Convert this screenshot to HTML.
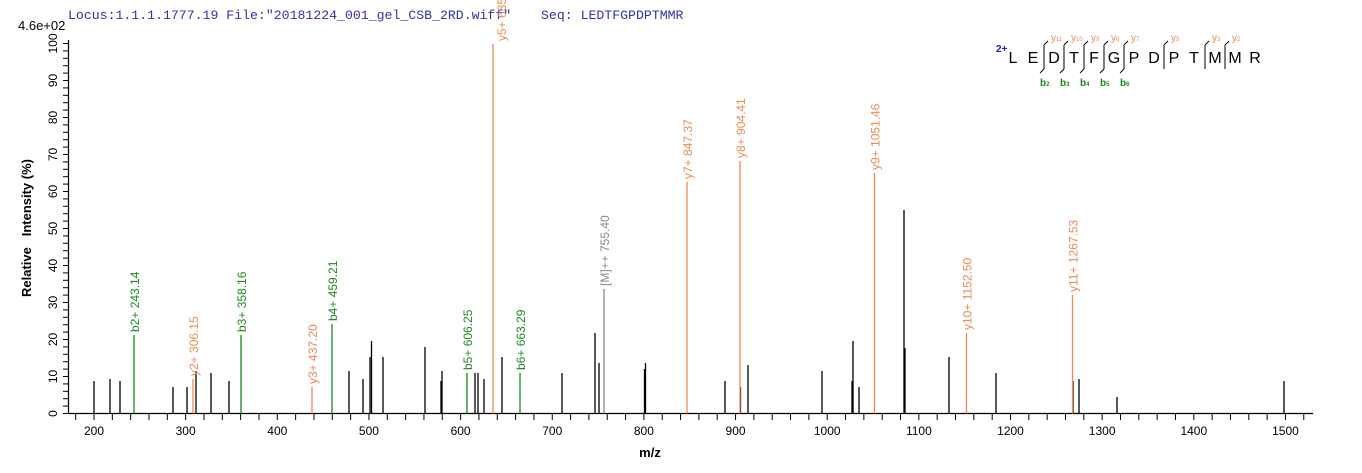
<!DOCTYPE html>
<html><head><meta charset="utf-8"><style>
html,body{margin:0;padding:0;background:#fff;}
svg{display:block;}
text{font-family:"Liberation Sans",Arial,sans-serif;}
</style></head><body>
<svg width="1362" height="473" viewBox="0 0 1362 473" xmlns="http://www.w3.org/2000/svg">
<text x="68" y="19" font-size="13.2" fill="#3333aa" style="font-family:'Liberation Mono',monospace">Locus:1.1.1.1777.19 File:"20181224_001_gel_CSB_2RD.wiff"</text>
<text x="541" y="19" font-size="13.2" fill="#3333aa" style="font-family:'Liberation Mono',monospace">Seq: LEDTFGPDPTMMR</text>
<text x="18" y="30" font-size="13" fill="#000">4.6e+02</text>
<line x1="68.5" y1="40" x2="68.5" y2="413.5" stroke="#000" stroke-width="1.2"/>
<line x1="68" y1="413.5" x2="1313" y2="413.5" stroke="#000" stroke-width="1.2"/>
<g id="yt" stroke="#000" stroke-width="1"></g>
<g id="ytl" font-size="12" fill="#000"></g>
<g id="xt" stroke="#000" stroke-width="1"></g>
<g id="xtl" font-size="12" fill="#000" text-anchor="middle"></g>
<text transform="translate(31,228) rotate(-90)" font-size="13" font-weight="bold" text-anchor="middle" xml:space="preserve">Relative   Intensity (%)</text>
<text x="650" y="457" font-size="13" font-weight="bold" text-anchor="middle">m/z</text>
<g id="pk" stroke-width="1.3"></g>
<g id="lb" font-size="12"></g>
<g font-size="16" fill="#000" text-anchor="middle">
<text x="1013" y="63">L</text><text x="1033" y="63">E</text><text x="1054" y="63">D</text><text x="1074" y="63">T</text><text x="1094" y="63">F</text><text x="1114" y="63">G</text><text x="1134" y="63">P</text><text x="1154" y="63">D</text><text x="1174" y="63">P</text><text x="1194" y="63">T</text><text x="1215" y="63">M</text><text x="1235" y="63">M</text><text x="1255" y="63">R</text>
</g>
<text x="996" y="52" font-size="10" font-weight="bold" fill="#1a1acc">2+</text>
<g id="sq"></g>
</svg>
<script>
var NS="http://www.w3.org/2000/svg";
function el(p,t,a,txt){var e=document.createElementNS(NS,t);for(var k in a)e.setAttribute(k,a[k]);if(txt!==undefined)e.textContent=txt;document.getElementById(p).appendChild(e);return e;}
var B=413.5,S=3.7;
for(var v=0;v<=100;v+=2){var y=B-v*S;el("yt","line",{x1:63,x2:68,y1:y,y2:y});}
for(var v=0;v<=100;v+=10){var y=B-v*S;el("ytl","text",{transform:"translate(57,"+y+") rotate(-90)","text-anchor":"middle"},""+v);}
function X(m){return 94+(m-200)*0.9165;}
for(var m=180;m<=1520;m+=20){var x=X(m);if(x<69||x>1312)continue;el("xt","line",{x1:x,x2:x,y1:414,y2:420});}
for(var m=200;m<=1500;m+=100){el("xtl","text",{x:X(m),y:435},""+m);}
var blk=[[94,381],[110,379],[120,381],[173,387],[187,387],[196,371],[211,373],[229,381],[349,371],[363,379],[370,357],[371.5,341],[383,357],[425,347],[441,381],[442,371],[475,373],[478,373],[484,379],[502,357],[562,373],[595,333],[599,363],[644.5,369],[645.5,363],[725,381],[740.5,387],[748,365],[822,371],[852,381],[853,341],[859,387],[904,210],[905,348],[949,357],[996,373],[1073,381],[1079,379],[1117,397],[1284,381]];
blk.forEach(function(p){el("pk","line",{x1:p[0],x2:p[0],y1:B,y2:p[1],stroke:"#000"});});
var O="#ec8a52",G="#1a8a1a",GR="#888";
var col=[[134,335,G,"b2+ 243.14",1],[193,379,O,"y2+ 306.15",1],[241,335,G,"b3+ 358.16",1],[312,387,O,"y3+ 437.20",1],[332,324,G,"b4+ 459.21",1],[467,373,G,"b5+ 606.25",1],[493,44,O,"y5+ 635.5",9],[520,373,G,"b6+ 663.29",1],[604,289,GR,"[M]++ 755.40",1],[687,182,O,"y7+ 847.37",1],[740,161,O,"y8+ 904.41",1],[874.5,173,O,"y9+ 1051.46",1],[966.5,333,O,"y10+ 1152.50",1],[1072.5,295,O,"y11+ 1267.53",1]];
col.forEach(function(c){el("pk","line",{x1:c[0],x2:c[0],y1:B,y2:c[1],stroke:c[2]});
el("lb","text",{transform:"translate("+(c[0]+c[4]+4)+","+(c[1]-3)+") rotate(-90)",fill:c[2]},c[3]);});
var br=[[1044,"11","2"],[1064,"10","3"],[1084,"9","4"],[1104,"8","5"],[1124,"7","6"],[1164,"5",null],[1205,"3",null],[1225,"2",null]];
br.forEach(function(b){var x=b[0];
el("sq","line",{x1:x,x2:x,y1:45,y2:69,stroke:"#000","stroke-width":1});
el("sq","line",{x1:x,x2:x+4,y1:45,y2:41,stroke:"#000","stroke-width":1});
if(b[2])el("sq","line",{x1:x,x2:x-4,y1:69,y2:73,stroke:"#000","stroke-width":1});
var t=el("sq","text",{x:x+7,y:41,"font-size":"10",fill:O},"y");
var s=document.createElementNS(NS,"tspan");s.setAttribute("font-size","6");s.textContent=b[1];t.appendChild(s);
if(b[2]){var t2=el("sq","text",{x:x-4,y:86,"font-size":"10",fill:G,"font-weight":"bold"},"b");var s2=document.createElementNS(NS,"tspan");s2.setAttribute("font-size","6");s2.textContent=b[2];t2.appendChild(s2);}
});
</script>
</body></html>
